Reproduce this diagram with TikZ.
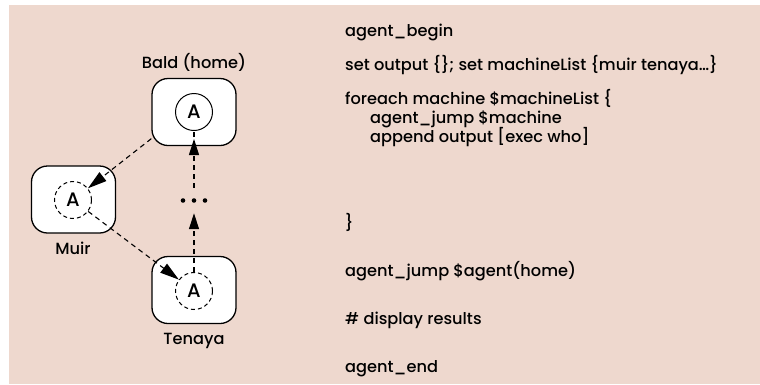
\documentclass[tikz,border=0pt]{standalone}
\usepackage{fontspec}
\setmainfont{Poppins}[UprightFont=* Medium]
\usetikzlibrary{arrows.meta}
\definecolor{panel}{RGB}{238,216,206}
\begin{document}
\begin{tikzpicture}[x=1pt,y=-1pt,
  hostbox/.style={draw, line width=1.3pt, fill=white, rounded corners=16pt, minimum width=84pt, minimum height=67pt, inner sep=0pt},
  agentc/.style={circle, draw, line width=1pt, minimum size=37pt, inner sep=0pt, font=\fontsize{19.5}{24}\selectfont},
  ghost/.style={agentc, dash pattern=on 4pt off 3pt},
  hop/.style={dash pattern=on 5pt off 4pt, line width=1.1pt},
  tip/.style={-{Triangle[length=19pt,width=11pt]}},
  vtip/.style={-{Triangle[length=16pt,width=10pt]}},
  lbl/.style={font=\fontsize{16.2}{20}\selectfont, inner sep=0pt, anchor=base},
  code/.style={font=\fontsize{16.2}{20}\selectfont, anchor=base west, inner sep=0pt},
  dotsbox/.style={minimum width=30pt, minimum height=25pt, inner sep=0pt}]
\useasboundingbox (0,0) rectangle (760,384);
\fill[panel] (9,5) rectangle (760,384);
% hosts
\node[hostbox] (bald) at (194,112) {};
\node[agentc] (ab) at (194,112) {A};
\node[hostbox] (muir) at (73.5,199.5) {};
\node[ghost] (am) at (73,200) {A};
\node[hostbox] (ten) at (194,290) {};
\node[ghost] (at) at (194,291) {A};
\node[lbl] (lbald) at (194,68) {Bald (home)};
\node[lbl] (lmuir) at (73,254) {Muir};
\node[lbl] (lten) at (194,344) {Tenaya};
% dots
\node[dotsbox] (dots) at (194,200.5) {};
\foreach \dx in {-11,0,11} \fill ([xshift=\dx pt]dots.center) circle (2.3pt);
% connectors
\draw[hop,tip] (bald.212) -- (am);
\draw[hop,tip] (am) -- (at);
\draw[hop,vtip] (at) -- (dots);
\draw[hop,vtip,shorten >=8pt] (dots) -- (ab);
\draw[hop] (bald.south) -- (ab.south);
% code
\node[code] (c1) at (345,36) {agent\_begin};
\node[code] (c2) at (345,70) {set output \{\}; set machineList \{muir tenaya…\}};
\node[code] (c3) at (345,104) {foreach machine \$machineList \{};
\node[code] (c4) at (370,123) {agent\_jump \$machine};
\node[code] (c5) at (370,142) {append output [exec who]};
\node[code] (c6) at (345,228) {\}};
\node[code] (c7) at (345,276) {agent\_jump \$agent(home)};
\node[code] (c8) at (345,324) {\# display results};
\node[code] (c9) at (345,372) {agent\_end};
\end{tikzpicture}
\end{document}
